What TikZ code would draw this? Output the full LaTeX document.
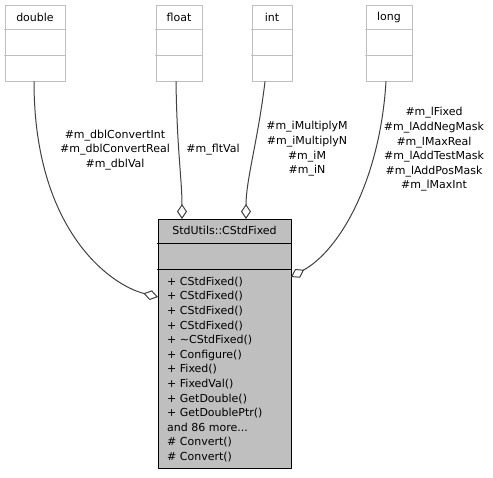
\documentclass[tikz,border=0pt]{standalone}
\usepackage{fontspec}
\setmainfont{DejaVu Sans}
\usetikzlibrary{arrows.meta}
\definecolor{boxgray}{HTML}{BFBFBF}
\definecolor{edgegray}{HTML}{404040}
\begin{document}
\begin{tikzpicture}[x=1pt, y=1pt, font=\fontsize{11}{14.6}\selectfont, line join=round, line cap=round]
\tikzset{
  typebox/.style={draw=boxgray, fill=white, line width=1pt, minimum height=76pt, inner sep=0pt},
  classbox/.style={draw=black, fill=boxgray, line width=1pt, minimum width=133pt, minimum height=249pt, inner sep=0pt},
  member/.style={anchor=west, align=left, inner sep=0pt},
  role/.style={align=center, inner sep=0pt},
  agg/.style={draw=edgegray, line width=1pt, -{Diamond[open, length=15pt, width=10pt, line width=1pt]}}
}
\useasboundingbox (0,0) rectangle (493,-477);

% member types
\foreach \n/\x/\w in {double/35/60, float/179/46, int/272/40, long/389/46}{
  \node[typebox, minimum width=\w pt] (\n) at (\x,-43) {};
  \node (\n label) at ([yshift=-13pt]\n.north) {\n};
  \draw[boxgray, line width=1pt] ([yshift=-25.3pt]\n.north west) -- ([yshift=-25.3pt]\n.north east);
  \draw[boxgray, line width=1pt] ([yshift=-50.7pt]\n.north west) -- ([yshift=-50.7pt]\n.north east);
}

% the class
\node[classbox] (main) at (224.5,-343.5) {};
\draw[line width=1pt] ([yshift=-25pt]main.north west) -- ([yshift=-25pt]main.north east);
\draw[line width=1pt] ([yshift=-51pt]main.north west) -- ([yshift=-51pt]main.north east);
\node (mainlabel) at (224.5,-230.5) {StdUtils::CStdFixed};
\node[member] (methods) at (167,-369.5) {+ CStdFixed()\\+ CStdFixed()\\+ CStdFixed()\\+ CStdFixed()\\+ \textasciitilde CStdFixed()\\+ Configure()\\+ Fixed()\\+ FixedVal()\\+ GetDouble()\\+ GetDoublePtr()\\and 86 more...\\\# Convert()\\\# Convert()};

% diamond ends
\coordinate (pdbl) at (158,-297);
\coordinate (pflt) at (182,-219);
\coordinate (pint) at (246,-219);
\coordinate (plng) at (291,-277);

\foreach \from/\sx/\to/\ax/\ay/\bx/\by in {double/-1/pdbl/34/-230/110/-285, float/-3/pflt/177/-150/182/-180, int/-7/pint/258/-140/246/-180, long/-3/plng/380/-180/340/-250}
\draw[agg]
([xshift=\sx pt]\from.south) .. controls (\ax,\ay) and (\bx,\by) .. (\to)
;

% roles
\node[role] (dblroles) at (115,-150) {\#m\_dblConvertInt\\\#m\_dblConvertReal\\\#m\_dblVal};
\node[role] (fltroles) at (213,-150) {\#m\_fltVal};
\node[role] (introles) at (307,-149) {\#m\_iMultiplyM\\\#m\_iMultiplyN\\\#m\_iM\\\#m\_iN};
\node[role] (lngroles) at (434,-149.5) {\#m\_lFixed\\\#m\_lAddNegMask\\\#m\_lMaxReal\\\#m\_lAddTestMask\\\#m\_lAddPosMask\\\#m\_lMaxInt};
\end{tikzpicture}
\end{document}
